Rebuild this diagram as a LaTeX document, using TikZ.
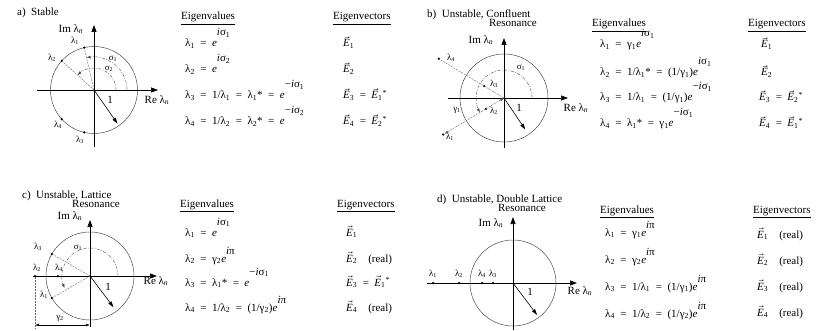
\documentclass[tikz,border=0pt]{standalone}
\usepackage{fontspec}
\setmainfont{Liberation Serif}
\usetikzlibrary{arrows.meta,positioning,calc}

% small helpers for the formulas
\newcommand{\lam}[1]{λ\textsubscript{#1}}
\newcommand{\gam}[1]{γ\textsubscript{#1}}
\newcommand{\sig}[1]{σ\textsubscript{#1}}
\newcommand{\lamn}{λ\textsubscript{\itshape n}}
\newcommand{\ex}[2][11pt]{\raisebox{#1}{#2}}
\newcommand{\vE}[1]{$\vec{\mbox{\itshape E}}$\textsubscript{#1}}
\newcommand{\eqs}{\enspace=\enspace}
\newcommand{\ee}{\textit{e}}
\newcommand{\ii}{\textit{i}}

\begin{document}
\begin{tikzpicture}[
            x=1pt, y=-1pt,
            font=\fontsize{11}{13}\selectfont,
            axis/.style={line width=0.7pt, -{Triangle[length=7pt,width=5pt]}},
            unit/.style={line width=0.6pt, -{Triangle[length=6pt,width=3.6pt]}},
            ring/.style={draw=black!70, line width=0.5pt},
            guide/.style={draw=black!60, line width=0.4pt, dash pattern=on 2pt off 1pt},
            angarc/.style={draw=black!70, line width=0.4pt, dash pattern=on 3pt off 1.5pt on 0.8pt off 1.5pt, -{Latex[length=4pt,width=3pt]}},
            dim/.style={line width=0.4pt, {Latex[length=4pt,width=2.6pt]}-{Latex[length=4pt,width=2.6pt]}},
            pt/.style={circle, fill, inner sep=0pt, minimum size=2.5pt},
            lab/.style={font=\fontsize{9}{10}\selectfont, inner sep=0pt},
            ttl/.style={anchor=base west, inner sep=0pt},
            eq/.style={anchor=base west, inner sep=0pt}
        ]
            \useasboundingbox (0,0) rectangle (818,331);

            % ---------- a) stable
            \node[ttl] (ta) at (17,16) {a)\ \ Stable};
            \coordinate (Oa) at (94,90);
            \coordinate (aW) at (37,90);
            \coordinate (aE) at (158,90);
            \coordinate (aS) at (94,147);
            \coordinate (aN) at (94,25);
            \draw[ring] (Oa) circle [radius=43.5];
            \draw[axis] (aW) -- (aE);
            \draw[axis] (aS) -- (aN);
            \node[pt] (a1) at ($(Oa)+(-103:43.5)$) {};
            \node[pt] (a2) at ($(Oa)+(-138:43.5)$) {};
            \node[pt] (a3) at ($(Oa)+(103:43.5)$) {};
            \node[pt] (a4) at ($(Oa)+(138:43.5)$) {};
            \draw[guide] (Oa) -- (a1);
            \draw[guide] (Oa) -- (a2);
            \draw[angarc] ($(Oa)+(33,0)$) arc (0:-103:33);
            \draw[angarc] ($(Oa)+(22,0)$) arc (0:-138:22);
            \coordinate (aU) at ($(Oa)+(55:41)$);
            \draw[unit] (Oa) -- (aU);
            \node[lab] (la1) at (75,41) {\lam1};
            \node[lab] (la2) at (52,58) {\lam2};
            \node[lab] (la3) at (80,140) {\lam3};
            \node[lab] (la4) at (58,125) {\lam4};
            \node[lab] (ls1) at (113,59) {\sig1};
            \node[lab] (ls2) at (109,69) {\sig2};
            \node (lone) at (110,100) {1};
            \node (aIm) at (71,29) {Im \lamn};
            \node (aRe) at (157,100) {Re \lamn};

            \node[eq] (aHv) at (181,20) {\underline{Eigenvalues}};
            \node[eq] (aHe) at (333,20) {\underline{Eigenvectors}};
            \node[eq] (aL1) at (185,47) {\lam1\eqs\ee\ex{\ii\sig1}};
            \node[eq] (aL2) at (185,73) {\lam2\eqs\ee\ex{\ii\sig2}};
            \node[eq] (aL3) at (185,99) {\lam3\eqs1/\lam1\eqs\lam1*\eqs\ee\ex{−\ii\sig1}};
            \node[eq] (aL4) at (185,125) {\lam4\eqs1/\lam2\eqs\lam2*\eqs\ee\ex{−\ii\sig2}};
            \node[eq] (aV1) at (343,47) {\vE1};
            \node[eq] (aV2) at (343,73) {\vE2};
            \node[eq] (aV3) at (343,99) {\vE3\eqs\vE1\textsuperscript{*}};
            \node[eq] (aV4) at (343,125) {\vE4\eqs\vE2\textsuperscript{*}};

            % ---------- b) confluent resonance
            \node[ttl] (tb) at (427,18) {b)\ \ Unstable, Confluent};
            \node[anchor=base east, inner sep=0pt] (tb2) at (537,27) {Resonance};
            \coordinate (Ob) at (504,98);
            \coordinate (bW) at (448,98);
            \coordinate (bE) at (568,98);
            \coordinate (bS) at (504,148);
            \coordinate (bN) at (504,38);
            \draw[ring] (Ob) circle [radius=44];
            \draw[axis] (bW) -- (bE);
            \draw[axis] (bS) -- (bN);
            \node[pt] (b1) at ($(Ob)+(149:71)$) {};
            \node[pt] (b2) at ($(Ob)+(149:21)$) {};
            \node[pt] (b3) at ($(Ob)+(-149:23)$) {};
            \node[pt] (b4) at ($(Ob)+(-149:76)$) {};
            \draw[guide] (Ob) -- (b4);
            \draw[guide, dim] (Ob) -- (b1);
            \draw[angarc] ($(Ob)+(28,0)$) arc (0:-211:28);
            \coordinate (bU) at ($(Ob)+(56:38)$);
            \draw[unit] (Ob) -- (bU);
            \node[lab] (lb4) at (451,58) {\lam4};
            \node[lab] (lb3) at (494,84) {\lam3};
            \node[lab] (lb2) at (494,111) {\lam2};
            \node[lab] (lb1) at (450,137) {\lam1};
            \node[lab] (lg1) at (457,110) {\gam1};
            \node[lab] (lsb) at (521,68) {\sig1};
            \node (bone) at (519,108) {1};
            \node (bIm) at (481,40) {Im \lamn};
            \node (bRe) at (576,108) {Re \lamn};

            \node[eq] (bHv) at (592,27) {\underline{Eigenvalues}};
            \node[eq] (bHe) at (748,27) {\underline{Eigenvectors}};
            \node[eq] (bL1) at (600,48) {\lam1\eqs\gam1\ee\ex{\ii\sig1}};
            \node[eq] (bL2) at (600,76) {\lam2\eqs1/\lam1*\eqs(1/\gam1)\ee\ex{\ii\sig1}};
            \node[eq] (bL3) at (600,101) {\lam3\eqs1/\lam1\eqs(1/\gam1)\ee\ex{−\ii\sig1}};
            \node[eq] (bL4) at (600,127) {\lam4\eqs\lam1*\eqs\gam1\ee\ex{−\ii\sig1}};
            \node[eq] (bV1) at (761,48) {\vE1};
            \node[eq] (bV2) at (761,76) {\vE2};
            \node[eq] (bV3) at (759,101) {\vE3\eqs\vE2\textsuperscript{*}};
            \node[eq] (bV4) at (759,127) {\vE4\eqs\vE1\textsuperscript{*}};

            % ---------- c) lattice resonance
            \node[ttl] (tc) at (22,198) {c)\ \ Unstable, Lattice};
            \node[ttl] (tc2) at (72,207) {Resonance};
            \coordinate (Oc) at (90,276);
            \coordinate (cW) at (33,276);
            \coordinate (cE) at (157,276);
            \coordinate (cS) at (90,327);
            \coordinate (cN) at (90,220);
            \draw[ring] (Oc) circle [radius=44];
            \draw[axis] (cW) -- (cE);
            \draw[axis] (cS) -- (cN);
            \node[pt] (c1) at ($(Oc)+(150:44)$) {};
            \node[pt] (c3) at ($(Oc)+(-150:44)$) {};
            \node[pt] (c2) at (35,276) {};
            \node[pt] (c4) at (58,276) {};
            \draw[guide] (Oc) -- (c1);
            \draw[guide] (Oc) -- (c3);
            \draw[angarc] ($(Oc)+(28,0)$) arc (0:-205:28);
            \coordinate (cU) at ($(Oc)+(53:39)$);
            \draw[unit] (Oc) -- (cU);
            \coordinate (cg) at (35,329);
            \coordinate (cgl) at (35,325);
            \coordinate (cgr) at (90,325);
            \draw[guide] (c2) -- (cg);
            \draw[dim] (cgl) -- (cgr);
            \node[lab] (lc3) at (38,247) {\lam3};
            \node[lab] (lc2) at (37,268) {\lam2};
            \node[lab] (lc4) at (59,268) {\lam4};
            \node[lab] (lc1) at (44,295) {\lam1};
            \node[lab] (lg2) at (60,318) {\gam2};
            \node[lab] (lsc) at (78,248) {\sig1};
            \node (cone) at (108,287) {1};
            \node (cIm) at (70,216) {Im \lamn};
            \node (cRe) at (156,281) {Re \lamn};

            \node[eq] (cHv) at (180,207) {\underline{Eigenvalues}};
            \node[eq] (cHe) at (337,207) {\underline{Eigenvectors}};
            \node[eq] (cL1) at (185,236) {\lam1\eqs\ee\ex{\ii\sig1}};
            \node[eq] (cL2) at (185,262) {\lam2\eqs\gam2\ee\ex[8pt]{\ii π}};
            \node[eq] (cL3) at (185,286) {\lam3\eqs\lam1*\eqs\ee\ex{−\ii\sig1}};
            \node[eq] (cL4) at (185,311) {\lam4\eqs1/\lam2\eqs(1/\gam2)\ee\ex[8pt]{\ii π}};
            \node[eq] (cV1) at (346,236) {\vE1};
            \node[eq] (cV2) at (346,262) {\vE2\quad(real)};
            \node[eq] (cV3) at (346,286) {\vE3\eqs\vE1\textsuperscript{*}};
            \node[eq] (cV4) at (346,311) {\vE4\quad(real)};

            % ---------- d) double lattice resonance
            \node[ttl] (td) at (437,202) {d)\ \ Unstable, Double Lattice};
            \node[anchor=base east, inner sep=0pt] (td2) at (546,211) {Resonance};
            \coordinate (Od) at (513,283);
            \coordinate (dW) at (427,283);
            \coordinate (dE) at (577,283);
            \coordinate (dS) at (513,330);
            \coordinate (dN) at (513,217);
            \draw[ring] (Od) circle [radius=43];
            \draw[axis] (dW) -- (dE);
            \draw[axis] (dS) -- (dN);
            \node[pt] (d1) at (433,283) {};
            \node[pt] (d2) at (459,283) {};
            \node[pt] (d4) at (482,283) {};
            \node[pt] (d3) at (493,283) {};
            \coordinate (dU) at ($(Od)+(53:40)$);
            \draw[unit] (Od) -- (dU);
            \node[lab, above=4pt of d1] (ld1) {\lam1};
            \node[lab, above=4pt of d2] (ld2) {\lam2};
            \node[lab, above=4pt of d4] (ld4) {\lam4};
            \node[lab, above=4pt of d3] (ld3) {\lam3};
            \node (done) at (530,292) {1};
            \node (dIm) at (491,223) {Im \lamn};
            \node (dRe) at (580,291) {Re \lamn};

            \node[eq] (dHv) at (600,213) {\underline{Eigenvalues}};
            \node[eq] (dHe) at (753,213) {\underline{Eigenvectors}};
            \node[eq] (dL1) at (605,236) {\lam1\eqs\gam1\ee\ex[8pt]{\ii π}};
            \node[eq] (dL2) at (605,263) {\lam2\eqs\gam2\ee\ex[8pt]{\ii π}};
            \node[eq] (dL3) at (605,290) {\lam3\eqs1/\lam1\eqs(1/\gam1)\ee\ex[8pt]{\ii π}};
            \node[eq] (dL4) at (605,317) {\lam4\eqs1/\lam2\eqs(1/\gam2)\ee\ex[8pt]{\ii π}};
            \node[eq] (dV1) at (757,238) {\vE1\quad(real)};
            \node[eq] (dV2) at (757,264) {\vE2\quad(real)};
            \node[eq] (dV3) at (757,290) {\vE3\quad(real)};
            \node[eq] (dV4) at (757,316) {\vE4\quad(real)};
        \end{tikzpicture}
\end{document}
